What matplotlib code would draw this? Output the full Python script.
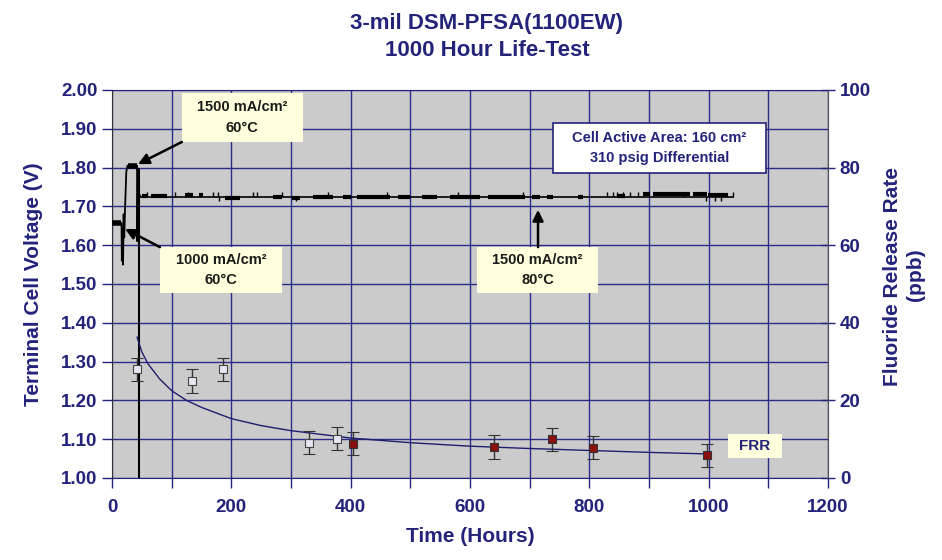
import matplotlib.pyplot as plt
from matplotlib.patches import Rectangle

# ---- data ----
# start-up of the voltage trace (hours, volts)
startup_hours = [0, 16, 16.5, 17.5, 18.5, 19.5, 20.5, 22, 24, 26, 42, 42.5, 43.5, 44.5, 46, 48]
startup_volts = [1.657, 1.657, 1.56, 1.64, 1.55, 1.68, 1.62, 1.70, 1.79, 1.805, 1.805, 1.61, 1.79, 1.70, 1.73, 1.725]
# flat holds drawn thick (start, end, volts)
hold_segments = [(0, 15, 1.657), (26, 42, 1.805)]

# steady operation at 1500 mA/cm2, 80C
steady_hours = [48, 1041]
steady_volts = [1.725, 1.725]
block_segments = [
    (50, 60, 1.727), (66, 92, 1.727), (122, 135, 1.729), (145, 153, 1.729),
    (190, 214, 1.722), (270, 285, 1.725), (301, 315, 1.722), (337, 370, 1.724),
    (387, 400, 1.725), (410, 466, 1.724), (480, 500, 1.725), (520, 545, 1.725),
    (566, 617, 1.725), (630, 692, 1.725), (704, 717, 1.725), (729, 739, 1.725),
    (781, 789, 1.725), (848, 860, 1.728), (890, 902, 1.733), (907, 969, 1.731),
    (974, 997, 1.731), (999, 1032, 1.729),
]
up_spike_hours = [59, 106, 128, 170, 178, 237, 243, 285, 362, 461, 580, 689,
                  830, 840, 846, 857, 868, 881, 957, 1041]
down_spike_hours = [180, 308, 996, 1010, 1020]
overlay_axis_hour = 45

# fluoride release rate (ppb)
open_hours = [42, 134, 186, 330, 377]
open_ppb = [28, 25, 28, 9.1, 10.1]
filled_hours = [404, 640, 737, 806, 997]
filled_ppb = [8.8, 8.0, 10.0, 7.8, 5.8]
frr_err = 3

# trend curve through the FRR points
fit_hours = [42, 50, 60, 80, 100, 125, 150, 200, 250, 300, 400, 500, 600, 700, 800, 900, 1000]
fit_ppb = [36.3, 32.5, 29.5, 25.5, 22.5, 20.0, 18.2, 15.3, 13.5, 12.2, 10.3, 9.1, 8.2, 7.6, 7.1, 6.6, 6.2]

# ---- style ----
plt.rcParams['font.family'] = ['Liberation Sans', 'DejaVu Sans']
plt.rcParams['font.weight'] = 'bold'
navy = '#23237A'
grid_c = '#2B2B8C'
box_c = '#FFFFDD'

fig = plt.figure(figsize=(9.42, 5.6), dpi=100)
ax = fig.add_axes([112 / 942, 1 - 478 / 560, (828 - 112) / 942, (478 - 90) / 560])
ax.set_facecolor('#CBCBCB')
ax.set_xlim(0, 1200)
ax.set_ylim(1.0, 2.0)

ax.set_xticks(range(0, 1201, 200))
ax.set_xticks(range(100, 1200, 200), minor=True)
ax.set_yticks([1.0 + 0.1 * i for i in range(11)])
ax.set_yticklabels(['%.2f' % (1.0 + 0.1 * i) for i in range(11)])
ax.grid(True, which='both', axis='x', color=grid_c, lw=1.0)
ax.grid(True, which='major', axis='y', color=grid_c, lw=1.0)
ax.set_axisbelow(True)
ax.tick_params(axis='both', which='both', direction='out', length=7, color=navy,
               labelcolor=navy, labelsize=13.5, width=1.0)
ax.tick_params(axis='x', pad=8)
ax.spines['left'].set_color('#333333')
ax.spines['bottom'].set_color(navy)
ax.spines['top'].set_color(navy)
ax.spines['right'].set_color('#555555')

ax.set_xlabel('Time (Hours)', color=navy, fontsize=15, fontweight='bold', labelpad=8)
ax.set_ylabel('Terminal Cell Voltage (V)', color=navy, fontsize=15, fontweight='bold')
ax.yaxis.set_label_coords(-0.097, 0.5)

# voltage trace
ax.plot(startup_hours, startup_volts, color='black', lw=1.3, zorder=3)
for h0, h1, v in hold_segments:
    ax.plot([h0, h1], [v, v], color='black', lw=4, solid_capstyle='butt', zorder=3)
ax.plot(steady_hours, steady_volts, color='black', lw=1.2, zorder=3)
for h0, h1, v in block_segments:
    ax.plot([h0, h1], [v, v], color='black', lw=3, solid_capstyle='butt', zorder=3)
ax.vlines(up_spike_hours, 1.725, 1.737, color='black', lw=1.0, zorder=3)
ax.vlines(down_spike_hours, 1.713, 1.725, color='black', lw=1.0, zorder=3)
ax.vlines(overlay_axis_hour, 1.0, 1.80, color='black', lw=1.5, zorder=3)

# annotation boxes
def note(x0, y0, w, h, text, head, tail):
    ax.add_patch(Rectangle((x0, y0), w, h, facecolor=box_c, edgecolor='none', zorder=4))
    ax.text(x0 + w / 2, y0 + h / 2, text, ha='center', va='center', fontsize=10.5,
            color='#1A1A1A', linespacing=1.6, zorder=5)
    ax.annotate('', xy=head, xytext=tail, zorder=5,
                arrowprops=dict(arrowstyle='-|>', color='black', lw=1.8,
                                mutation_scale=16, shrinkA=0, shrinkB=0))

note(117, 1.866, 203, 0.126, '1500 mA/cm²\n60°C', (43.6, 1.809), (117, 1.866))
note(80, 1.477, 205, 0.118, '1000 mA/cm²\n60°C', (21.8, 1.642), (80.4, 1.595))
note(612, 1.477, 203, 0.118, '1500 mA/cm²\n80°C', (714, 1.691), (714, 1.595))

ax.add_patch(Rectangle((739, 1.786), 357, 0.129, facecolor='white', edgecolor=navy,
                       lw=1.2, zorder=4))
ax.text(917.5, 1.8505, 'Cell Active Area: 160 cm²\n310 psig Differential', ha='center',
        va='center', fontsize=10.5, color=navy, linespacing=1.6, zorder=5)

ax.add_patch(Rectangle((1032, 1.0515), 91, 0.0615, facecolor=box_c, edgecolor='none', zorder=4))
ax.text(1077.5, 1.0825, 'FRR', ha='center', va='center', fontsize=11, color=navy, zorder=5)

# fluoride release rate on the right axis
ax2 = ax.twinx()
ax2.set_ylim(0, 100)
ax2.set_yticks(range(0, 101, 20))
ax2.tick_params(axis='y', direction='inout', length=10, color=navy, labelcolor=navy,
                labelsize=13.5, width=1.0)
ax2.spines['right'].set_color('#555555')
ax2.spines['left'].set_visible(False)
ax2.spines['top'].set_visible(False)
ax2.spines['bottom'].set_visible(False)

ax2.plot(fit_hours, fit_ppb, color='#1E1E6E', lw=1.0, zorder=3)
ax2.errorbar(open_hours, open_ppb, yerr=frr_err, fmt='s', ms=6, mfc='#E6E6F2',
             mec='#444444', mew=0.8, ecolor='#333333', elinewidth=1.0, capsize=4, zorder=4)
ax2.errorbar(filled_hours, filled_ppb, yerr=frr_err, fmt='s', ms=6, mfc='#8B1010',
             mec='#333333', mew=0.8, ecolor='#333333', elinewidth=1.0, capsize=4, zorder=4)

fig.text(892 / 942, 1 - 277 / 560, 'Fluoride Release Rate', rotation=90, ha='center',
         va='center', color=navy, fontsize=15)
fig.text(916 / 942, 1 - 275 / 560, '(ppb)', rotation=90, ha='center', va='center',
         color=navy, fontsize=15)

fig.text(487 / 942, 1 - 23 / 560, '3-mil DSM-PFSA(1100EW)', ha='center', va='center',
         color=navy, fontsize=16)
fig.text(487 / 942, 1 - 50 / 560, '1000 Hour Life-Test', ha='center', va='center',
         color=navy, fontsize=16)

fig.savefig('out.png', dpi=100)
